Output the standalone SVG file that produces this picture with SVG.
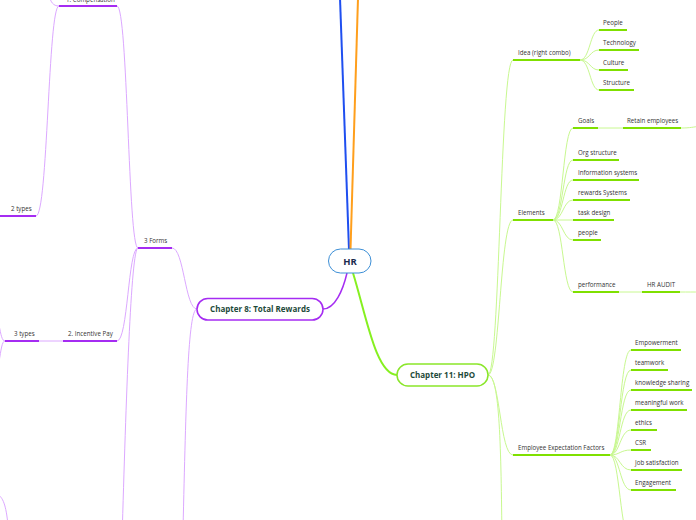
<svg xmlns="http://www.w3.org/2000/svg" width="696" height="520" viewBox="0 0 696 520">
<style>
.lbl{font-family:"Open Sans","Noto Sans",sans-serif;font-size:6.2px;fill:#333}
.ttl{font-family:"Open Sans","Noto Sans",sans-serif;font-size:8px;font-weight:bold;fill:#1d4a3a;text-anchor:middle}
.gu{stroke:#7fe000;stroke-width:2;fill:none}
.gc{stroke:#c8f890;stroke-width:1;fill:none}
.pu{stroke:#a52cf2;stroke-width:2;fill:none}
.pc{stroke:#dca8ff;stroke-width:1;fill:none}
</style>
<rect width="696" height="520" fill="#fff"/>
<g id="connectors">
<path d="M340,-2 L349,250" stroke="#1f4ff0" stroke-width="2" fill="none"/>
<path d="M358,-2 L350.5,250" stroke="#ff9f1c" stroke-width="2" fill="none"/>
<path d="M347,273 C343,290 335,309 323,309" stroke="#a52cf2" stroke-width="1.5" fill="none"/>
<path d="M353,273 C366,315 376,375 397,375" stroke="#86f020" stroke-width="2" fill="none"/>
<path class="gc" d="M488,375 C500,375 500,60 513,60"/>
<path class="gc" d="M488,375 C500,375 500,220 513,220"/>
<path class="gc" d="M488,375 C500,375 500,455 513,455"/>
<path class="gc" d="M488,375 C500,375 501,450 502,540"/>
<path class="gc" d="M580,60 C590,60 590,30 599,30"/>
<path class="gc" d="M580,60 C590,60 590,50 599,50"/>
<path class="gc" d="M580,60 C590,60 590,70 599,70"/>
<path class="gc" d="M580,60 C590,60 590,90 599,90"/>
<path class="gc" d="M553,220 C563,220 563,128 573,128"/>
<path class="gc" d="M553,220 C563,220 563,160 573,160"/>
<path class="gc" d="M553,220 C563,220 563,180 573,180"/>
<path class="gc" d="M553,220 C563,220 563,200 573,200"/>
<path class="gc" d="M553,220 L573,220"/>
<path class="gc" d="M553,220 C563,220 563,240 573,240"/>
<path class="gc" d="M553,220 C563,220 563,292 573,292"/>
<path class="gc" d="M598,128 L623,128"/>
<path class="gc" d="M681,128 C690,128 694,127 700,126"/>
<path class="gc" d="M619,292 L642,292"/>
<path class="gc" d="M680,292 C688,292 694,292 700,292"/>
<path class="gc" d="M610,455 C620,455 620,350 631,350"/>
<path class="gc" d="M610,455 C620,455 620,370 631,370"/>
<path class="gc" d="M610,455 C620,455 620,390 631,390"/>
<path class="gc" d="M610,455 C620,455 620,410 631,410"/>
<path class="gc" d="M610,455 C620,455 620,430 631,430"/>
<path class="gc" d="M610,455 C620,455 620,450 631,450"/>
<path class="gc" d="M610,455 C620,455 620,470 631,470"/>
<path class="gc" d="M610,455 C620,455 620,490 631,490"/>
<path class="gc" d="M610,455 C620,455 620,540 631,540"/>
<path class="pc" d="M197,309 C185,309 184,248 172,248"/>
<path class="pc" d="M197,309 C188,309 186,400 183,530"/>
<path class="pc" d="M138,248 C128,248 128,6 117,6"/>
<path class="pc" d="M138,248 C128,248 128,341 117,341"/>
<path class="pc" d="M138,248 C131,248 126,400 122,540"/>
<path class="pc" d="M59,6 C48,6 48,216 36,216"/>
<path class="pc" d="M59,6 C53,6 51,2 49,-4"/>
<path class="pc" d="M63,341 L39,341"/>
<path class="pc" d="M5,341 C2,341 1,335 -1,325"/>
<path class="pc" d="M5,341 C2,341 1,350 -1,362"/>
<path class="pc" d="M-3,494 C3,497 6,505 8,525"/>
</g>
<g id="hr">
<rect x="328.5" y="249" width="42.5" height="24" rx="12" fill="#fff" stroke="#3d8fd6" stroke-width="1"/>
<text x="350" y="264.5" font-family="'Open Sans','Noto Sans',sans-serif" font-size="9.5" font-weight="bold" fill="#1b2a4e" text-anchor="middle">HR</text>
</g>
<g id="ch8">
<rect x="197" y="298.5" width="126" height="21.5" rx="10.75" fill="#fff" stroke="#a52cf2" stroke-width="1.5"/>
<text class="ttl" x="260" y="312">Chapter 8: Total Rewards</text>
</g>
<g id="ch11">
<rect x="397" y="364" width="91" height="22" rx="11" fill="#fff" stroke="#8ae62a" stroke-width="1.5"/>
<text class="ttl" x="442.5" y="378">Chapter 11: HPO</text>
</g>
<g id="idea"><path class="gu" d="M513,60 H580"/><text class="lbl" x="518" y="55">Idea (right combo)</text></g>
<g id="people1"><path class="gu" d="M599,30 H627"/><text class="lbl" x="603" y="25">People</text></g>
<g id="technology"><path class="gu" d="M599,50 H639"/><text class="lbl" x="603" y="45">Technology</text></g>
<g id="culture"><path class="gu" d="M599,70 H628"/><text class="lbl" x="603" y="65">Culture</text></g>
<g id="structure"><path class="gu" d="M599,90 H634"/><text class="lbl" x="603" y="85">Structure</text></g>
<g id="elements"><path class="gu" d="M513,220 H553"/><text class="lbl" x="518" y="215">Elements</text></g>
<g id="goals"><path class="gu" d="M573,128 H598"/><text class="lbl" x="578" y="122.5">Goals</text></g>
<g id="retain"><path class="gu" d="M623,128 H681"/><text class="lbl" x="627" y="122.5">Retain employees</text></g>
<g id="org"><path class="gu" d="M573,160 H619"/><text class="lbl" x="578" y="155">Org structure</text></g>
<g id="info"><path class="gu" d="M573,180 H639"/><text class="lbl" x="578" y="175">Information systems</text></g>
<g id="rewards"><path class="gu" d="M573,200 H630"/><text class="lbl" x="578" y="195">rewards Systems</text></g>
<g id="task"><path class="gu" d="M573,220 H614"/><text class="lbl" x="578" y="215">task design</text></g>
<g id="people2"><path class="gu" d="M573,240 H601"/><text class="lbl" x="578" y="235">people</text></g>
<g id="performance"><path class="gu" d="M573,292 H619"/><text class="lbl" x="578" y="287">performance</text></g>
<g id="hraudit"><path class="gu" d="M642,292 H680"/><text class="lbl" x="647" y="287">HR AUDIT</text></g>
<g id="eef"><path class="gu" d="M513,455 H610"/><text class="lbl" x="518" y="450">Employee Expectation Factors</text></g>
<g id="empowerment"><path class="gu" d="M631,350 H681"/><text class="lbl" x="635" y="345">Empowerment</text></g>
<g id="teamwork"><path class="gu" d="M631,370 H668"/><text class="lbl" x="635" y="365">teamwork</text></g>
<g id="knowledge"><path class="gu" d="M631,390 H692"/><text class="lbl" x="635" y="385">knowledge sharing</text></g>
<g id="meaningful"><path class="gu" d="M631,410 H687"/><text class="lbl" x="635" y="405">meaningful work</text></g>
<g id="ethics"><path class="gu" d="M631,430 H657"/><text class="lbl" x="635" y="425">ethics</text></g>
<g id="csr"><path class="gu" d="M631,450 H651"/><text class="lbl" x="635" y="445">CSR</text></g>
<g id="jobsat"><path class="gu" d="M631,470 H682"/><text class="lbl" x="635" y="465">Job satisfaction</text></g>
<g id="engagement"><path class="gu" d="M631,490 H676"/><text class="lbl" x="635" y="485">Engagement</text></g>
<g id="forms"><path class="pu" d="M138,248 H172"/><text class="lbl" x="144" y="243">3 Forms</text></g>
<g id="compensation"><path class="pu" d="M59,6 H117"/><text class="lbl" x="66" y="1.5">1. Compensation</text></g>
<g id="types2"><path class="pu" d="M-2,216 H36"/><text class="lbl" x="11" y="211">2 types</text></g>
<g id="incentive"><path class="pu" d="M63,341 H117"/><text class="lbl" x="68" y="336">2. Incentive Pay</text></g>
<g id="types3"><path class="pu" d="M5,341 H39"/><text class="lbl" x="14" y="336">3 types</text></g>
</svg>
